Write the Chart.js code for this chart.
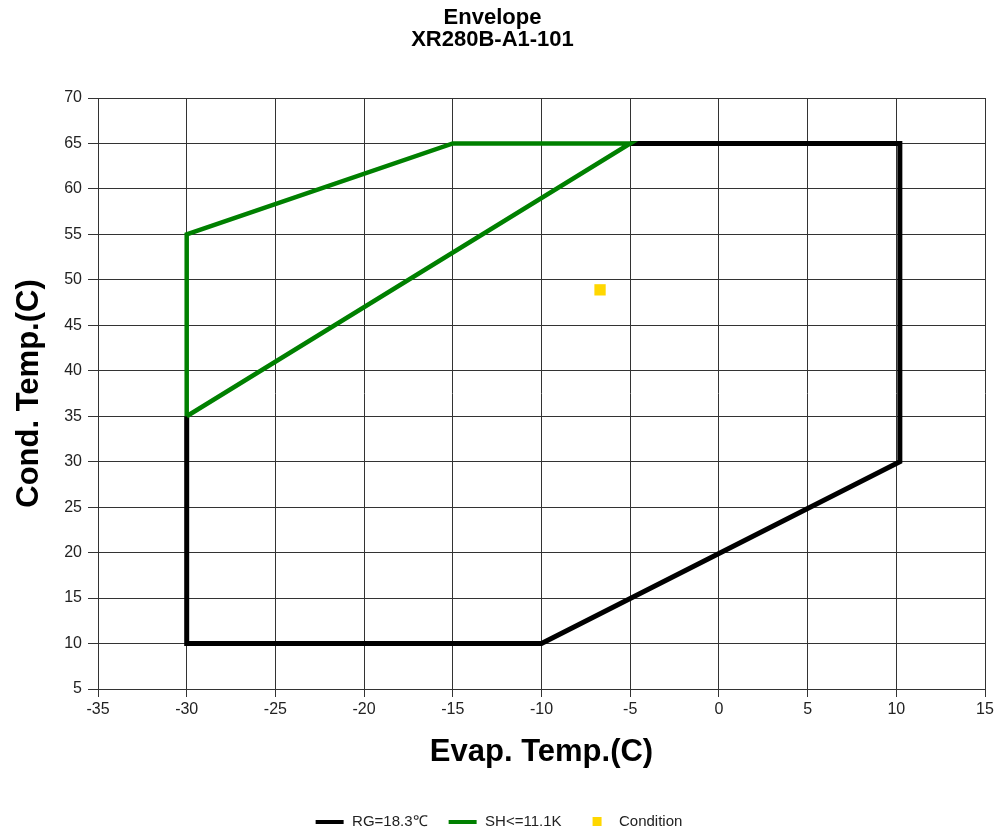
<!DOCTYPE html>
<html><head><meta charset="utf-8">
<script src="https://cdn.jsdelivr.net/npm/chart.js@4.4.0/dist/chart.umd.min.js"></script>
<style>html,body{margin:0;padding:0;background:#fff;}canvas{display:block;}</style>
</head><body>
<canvas id="c" width="1002" height="837"></canvas>
<script>
// ---- data ----
const titleLines = ['Envelope', 'XR280B-A1-101'];
const xAxisTitle = 'Evap. Temp.(C)';
const yAxisTitle = 'Cond. Temp.(C)';
const seriesNames = ['RG=18.3\u2103', 'SH<=11.1K', 'Condition'];
const seriesColors = ['#000000', '#008000', '#FFD700'];
const rgX = [-5, 10.2, 10.2, -10, -30, -30];
const rgY = [65, 65, 30, 10, 10, 35];
const shX = [-30, -30, -15, -5, -30];
const shY = [35, 55, 65, 65, 35];
const condX = [-6.7];
const condY = [48.9];
const xTickValues = [-35, -30, -25, -20, -15, -10, -5, 0, 5, 10, 15];
const yTickValues = [5, 10, 15, 20, 25, 30, 35, 40, 45, 50, 55, 60, 65, 70];

const toPts = (xs, ys) => xs.map((x, i) => ({x: x, y: ys[i]}));

// legend symbols
function symbol(kind, color) {
  const cv = document.createElement('canvas');
  if (kind === 'line') {
    cv.width = 42; cv.height = 4;
    const g = cv.getContext('2d');
    g.fillStyle = color; g.fillRect(13, 0, 28, 4);
  } else {
    cv.width = 42; cv.height = 9;
    const g = cv.getContext('2d');
    g.fillStyle = color; g.fillRect(23, 0, 9, 9);
  }
  return cv;
}
const legendSymbols = [symbol('line', seriesColors[0]), symbol('line', seriesColors[1]), symbol('rect', seriesColors[2])];

const gridColor = '#333333';
const fam = "'Liberation Sans', Arial, sans-serif";

new Chart(document.getElementById('c'), {
  type: 'scatter',
  data: {
    datasets: [
      {label: seriesNames[0], data: toPts(rgX, rgY), showLine: true, borderColor: seriesColors[0], borderWidth: 5,
       pointRadius: 0, borderJoinStyle: 'miter', borderCapStyle: 'butt', order: 2, fill: false},
      {label: seriesNames[1], data: toPts(shX, shY), showLine: true, borderColor: seriesColors[1], borderWidth: 4.5,
       pointRadius: 0, borderJoinStyle: 'miter', borderCapStyle: 'butt', order: 1, fill: false},
      {label: seriesNames[2], data: toPts(condX, condY), showLine: false, backgroundColor: seriesColors[2],
       borderWidth: 0, pointStyle: 'rect', pointRadius: 8, order: 0}
    ]
  },
  options: {
    responsive: false,
    animation: false,
    devicePixelRatio: 1,
    layout: {padding: {top: 0, left: 0, right: 17, bottom: -2}},
    plugins: {
      tooltip: {enabled: false},
      title: {
        display: true,
        text: titleLines,
        color: '#000',
        font: {family: fam, size: 22, weight: 'bold', lineHeight: 1.0},
        padding: {top: 6.5, bottom: 47.5}
      },
      legend: {
        display: true,
        position: 'bottom',
        align: 'center',
        labels: {
          usePointStyle: true,
          pointStyleWidth: 42,
          padding: 8,
          color: '#222',
          font: {family: fam, size: 15},
          generateLabels: (chart) => seriesNames.map((n, i) => ({
            text: n, pointStyle: legendSymbols[i], datasetIndex: i, hidden: false,
            fillStyle: seriesColors[i], strokeStyle: seriesColors[i], lineWidth: 0, fontColor: '#222'
          }))
        }
      }
    },
    scales: {
      x: {
        type: 'linear',
        min: xTickValues[0], max: xTickValues[xTickValues.length - 1],
        afterBuildTicks: (s) => { s.ticks = xTickValues.map(v => ({value: v})); },
        afterFit: (s) => { s.height = 117; },
        grid: {color: gridColor, lineWidth: 1, tickLength: 8, drawTicks: true},
        border: {display: true, color: gridColor, width: 1},
        ticks: {color: '#222', font: {family: fam, size: 16}, padding: 3, maxRotation: 0, autoSkip: false},
        title: {display: true, text: xAxisTitle, color: '#000', font: {family: fam, size: 31, weight: 'bold'}, padding: {top: 0, bottom: 35}}
      },
      y: {
        type: 'linear',
        min: yTickValues[0], max: yTickValues[yTickValues.length - 1],
        afterBuildTicks: (s) => { s.ticks = yTickValues.map(v => ({value: v})); },
        afterFit: (s) => { s.width = 98; },
        grid: {color: gridColor, lineWidth: 1, tickLength: 10, drawTicks: true},
        border: {display: true, color: gridColor, width: 1},
        ticks: {color: '#222', font: {family: fam, size: 16}, padding: 6, autoSkip: false},
        title: {display: true, text: yAxisTitle, color: '#000', font: {family: fam, size: 31, weight: 'bold'}, padding: {top: 11, bottom: 0}}
      }
    }
  }
});
</script>
</body></html>
